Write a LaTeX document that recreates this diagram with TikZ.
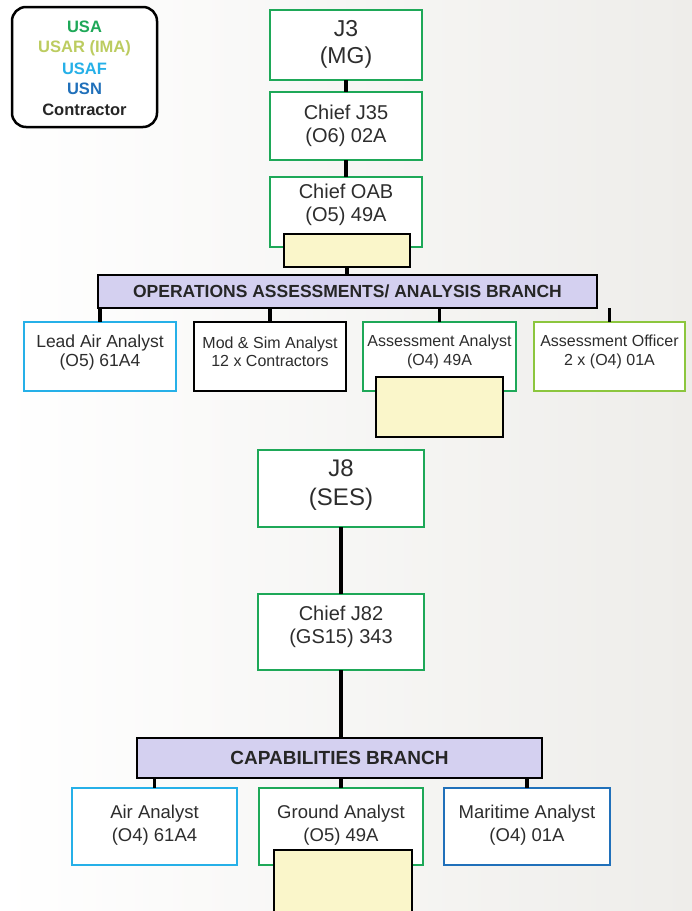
\documentclass[tikz,border=0pt]{standalone}
\usepackage{fontspec}
\setmainfont{Liberation Sans}
\definecolor{usagreen}{RGB}{30,168,88}
\definecolor{usartxt}{RGB}{188,204,96}
\definecolor{usarline}{RGB}{140,198,62}
\definecolor{usafcol}{RGB}{38,176,232}
\definecolor{usncol}{RGB}{32,112,186}
\definecolor{yfill}{RGB}{250,246,202}
\definecolor{barfill}{RGB}{212,208,240}
\definecolor{txtcol}{RGB}{45,45,45}
\definecolor{bggray}{RGB}{238,237,234}
\tikzset{
  box/.style={draw, line width=2.6pt, fill=white, inner sep=0pt, outer sep=0pt, rectangle},
  ybox/.style={draw=black, line width=2.2pt, fill=yfill, inner sep=0pt, outer sep=0pt, rectangle},
  bar/.style={draw=black, line width=2.4pt, fill=barfill, inner sep=0pt, outer sep=0pt, rectangle,
     font=\fontsize{17.5}{20}\selectfont\bfseries, text=black!85},
  conn/.style={line width=3.2pt, black},
  tbig/.style={align=center, text=txtcol, font=\fontsize{23}{27}\selectfont},
  tmid/.style={align=center, text=txtcol, font=\fontsize{20}{23}\selectfont},
  tsml/.style={align=center, text=txtcol, font=\fontsize{16}{18.5}\selectfont},
  tlow/.style={align=center, text=txtcol, font=\fontsize{18.5}{23}\selectfont},
  leg/.style={font=\fontsize{16.5}{19}\selectfont\bfseries}
}
\begin{document}
\begin{tikzpicture}[x=1pt,y=-1pt]
\useasboundingbox (0,0) rectangle (692,911);
\clip (0,0) rectangle (692,911);
\shade[left color=white, right color=bggray] (0,0) rectangle (692,911);

% legend
\node[draw=black, line width=2.5pt, rounded corners=14pt, fill=white, minimum width=145pt, minimum height=120pt] (legend) at (84.5,67) {};
\node[leg, text=usagreen] (lusa) at (84.5,27) {USA};
\node[leg, text=usartxt] (lusar) at (84.5,48) {USAR (IMA)};
\node[leg, text=usafcol] (lusaf) at (84.5,69) {USAF};
\node[leg, text=usncol] (lusn) at (84.5,89) {USN};
\node[leg, text=black!85] (lcon) at (84.5,110) {Contractor};

% top chain
\node[box, draw=usagreen, minimum width=152pt, minimum height=70pt] (j3) at (346,45) {};
\node[tbig] (j3t) at (346,44) {J3\\(MG)};
\node[box, draw=usagreen, minimum width=152pt, minimum height=68pt] (j35) at (346,126) {};
\node[tmid] (j35t) at (346,126) {Chief J35\\(O6) 02A};
\node[box, draw=usagreen, minimum width=152pt, minimum height=70pt] (oab) at (346,212) {};
\node[tmid] (oabt) at (346,205) {Chief OAB\\(O5) 49A};
\node[ybox, minimum width=126pt, minimum height=33pt] (y1) at (347,250.5) {};
\node[bar, minimum width=499pt, minimum height=33pt] (oabbar) at (347.5,291.5) {OPERATIONS ASSESSMENTS/ ANALYSIS BRANCH};

\draw[conn] (j3.south) -- (j35.north);
\draw[conn] (j35.south) -- (oab.north);
\draw[conn] (y1.south) -- (oabbar.north -| y1.south);

% OAB row
\node[box, draw=usafcol, minimum width=152pt, minimum height=69pt] (lead) at (100,356.5) {};
\node[tsml, font=\fontsize{17.5}{19}\selectfont] (leadt) at (100,352) {Lead Air Analyst\\(O5) 61A4};
\node[box, draw=black, minimum width=152pt, minimum height=69pt] (mod) at (270,356.5) {};
\node[tsml] (modt) at (270,352) {Mod \& Sim Analyst\\12 x Contractors};
\node[box, draw=usagreen, minimum width=153pt, minimum height=69pt] (aa) at (439.5,356.5) {};
\node[tsml] (aat) at (439.5,352) {Assessment Analyst\\(O4) 49A};
\node[box, draw=usarline, minimum width=151pt, minimum height=69pt] (ao) at (609.5,356.5) {};
\node[tsml] (aot) at (609.5,352) {Assessment Officer\\2 x (O4) 01A};
\node[ybox, minimum width=127pt, minimum height=60pt] (y2) at (439.5,407) {};

\draw[conn] (oabbar.south -| lead.north) -- (lead.north);
\draw[conn] (oabbar.south -| mod.north) -- (mod.north);
\draw[conn] (oabbar.south -| aa.north) -- (aa.north);
\draw[conn] (oabbar.south -| ao.north) -- (ao.north);

% J8 chain
\node[box, draw=usagreen, minimum width=166pt, minimum height=77pt] (j8) at (341,488.5) {};
\node[font=\fontsize{24}{29}\selectfont, align=center, text=txtcol] (j8t) at (341,485) {J8\\(SES)};
\node[box, draw=usagreen, minimum width=166pt, minimum height=76pt] (j82) at (341,632) {};
\node[tmid] (j82t) at (341,627) {Chief J82\\(GS15) 343};
\node[bar, font=\fontsize{19}{22}\selectfont\bfseries, minimum width=405pt, minimum height=40pt] (capbar) at (339.5,758) {CAPABILITIES BRANCH};

\draw[conn] (j8.south) -- (j82.north);
\draw[conn] (j82.south) -- (capbar.north -| j82.south);

% lower row
\node[box, draw=usafcol, minimum width=165pt, minimum height=77pt] (air) at (154.5,826.5) {};
\node[tlow] (airt) at (154.5,825) {Air Analyst\\(O4) 61A4};
\node[box, draw=usagreen, minimum width=164pt, minimum height=77pt] (gnd) at (341,826.5) {};
\node[tlow] (gndt) at (341,825) {Ground Analyst\\(O5) 49A};
\node[box, draw=usncol, minimum width=166pt, minimum height=77pt] (mar) at (527,826.5) {};
\node[tlow] (mart) at (527,825) {Maritime Analyst\\(O4) 01A};
\node[ybox, minimum width=138pt, minimum height=80pt] (y3) at (343,890) {};

\draw[conn] (capbar.south -| air.north) -- (air.north);
\draw[conn] (capbar.south -| gnd.north) -- (gnd.north);
\draw[conn] (capbar.south -| mar.north) -- (mar.north);
\end{tikzpicture}
\end{document}
